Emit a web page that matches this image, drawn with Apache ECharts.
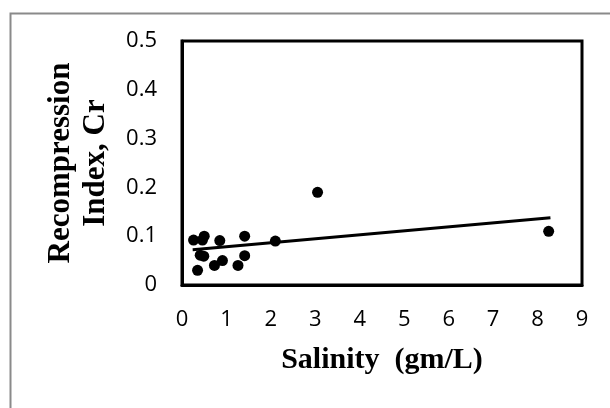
<!DOCTYPE html>
<html>
<head>
<meta charset="utf-8">
<script src="https://cdn.jsdelivr.net/npm/echarts@6/dist/echarts.min.js"></script>
<style>html,body{margin:0;padding:0;background:#fff}#c{width:610px;height:408px}</style>
</head>
<body>
<div id="c"></div>
<script>
var salinity = [0.26, 0.50, 0.46, 0.85, 1.41, 2.10, 3.05, 0.41, 0.49, 1.41, 0.91, 0.73, 1.26, 0.35, 8.25];
var crValues = [0.092, 0.100, 0.092, 0.091, 0.100, 0.090, 0.190, 0.061, 0.059, 0.060, 0.050, 0.040, 0.040, 0.030, 0.110];
var trendX = [0.24, 8.29];
var trendY = [0.072, 0.138];
var xTicks = [0,1,2,3,4,5,6,7,8,9];
var yTicks = [0,0.1,0.2,0.3,0.4,0.5];

var points = salinity.map(function(x,i){return [x, crValues[i]];});
var trend = trendX.map(function(x,i){return [x, trendY[i]];});

var chart = echarts.init(document.getElementById('c'), null, {renderer:'canvas'});
chart.setOption({
  animation:false,
  backgroundColor:'#fff',
  graphic:[{type:'rect', left:8, top:11, shape:{width:620,height:420}, style:{fill:'none', stroke:'#8a8a8a', lineWidth:2}, silent:true}],
  grid:{left:182, right:28, top:41, bottom:123, show:true, borderColor:'#000', borderWidth:3},
  xAxis:{type:'value', min:0, max:9, interval:1,
    name:'Salinity  (gm/L)', nameLocation:'middle', nameGap:60,
    nameTextStyle:{fontFamily:'Liberation Serif', fontWeight:'bold', fontSize:30, color:'#000'},
    axisLine:{show:true, lineStyle:{color:'#000', width:3}},
    axisTick:{show:false}, splitLine:{show:false},
    axisLabel:{margin:24, fontFamily:'Open Sans', fontSize:22, color:'#000',
      formatter:function(v){return xTicks.indexOf(v)>=0? String(v):'';}}
  },
  yAxis:{type:'value', min:0, max:0.5, interval:0.1,
    name:'Recompression\nIndex, Cr', nameLocation:'middle', nameGap:69, nameRotate:90,
    nameTextStyle:{fontFamily:'Liberation Serif', fontWeight:'bold', fontSize:31, color:'#000', lineHeight:35},
    axisLine:{show:true, lineStyle:{color:'#000', width:3}},
    axisTick:{show:false}, splitLine:{show:false},
    axisLabel:{margin:25, fontFamily:'Open Sans', fontSize:22, color:'#000',
      formatter:function(v){var r=Math.round(v*10)/10; return yTicks.indexOf(r)>=0? String(r):'';}}
  },
  series:[
    {type:'line', data:trend, symbol:'none', lineStyle:{color:'#000', width:3}, z:2},
    {type:'scatter', data:points, symbol:'circle', symbolSize:11, itemStyle:{color:'#000', opacity:1}, z:3}
  ]
});
</script>
</body>
</html>
